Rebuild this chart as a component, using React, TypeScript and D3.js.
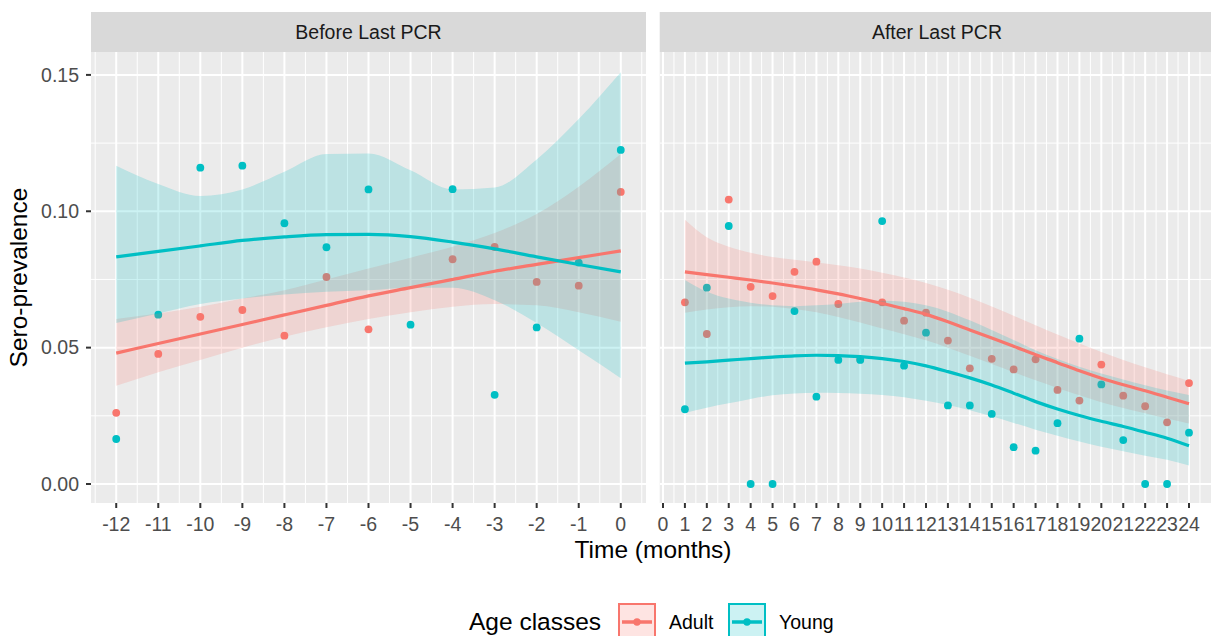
import React, { useEffect } from 'react';
import * as d3 from 'd3';

// months on the x axis of each facet
const beforeMonths = [-12, -11, -10, -9, -8, -7, -6, -5, -4, -3, -2, -1, 0];
const afterMonths = [1, 2, 3, 4, 5, 6, 7, 8, 9, 10, 11, 12, 13, 14, 15, 16, 17, 18, 19, 20, 21, 22, 23, 24];
const beforeTicks = [-12, -11, -10, -9, -8, -7, -6, -5, -4, -3, -2, -1, 0];
const afterTicks = [0, 1, 2, 3, 4, 5, 6, 7, 8, 9, 10, 11, 12, 13, 14, 15, 16, 17, 18, 19, 20, 21, 22, 23, 24];
const yTicks = [0, 0.05, 0.1, 0.15];
const yMinor = [0.025, 0.075, 0.125];
const facetLabels = ['Before Last PCR', 'After Last PCR'];
const groups = ['Adult', 'Young'];
const groupColors = ['#F8766D', '#00BFC4'];

// observed sero-prevalence
const beforeAdult = [0.0261, 0.0477, 0.0613, 0.0638, 0.0544, 0.0759, 0.0567, null, 0.0824, 0.0869, 0.0741, 0.0727, 0.1071];
const beforeYoung = [0.0165, 0.0621, 0.116, 0.1167, 0.0956, 0.0868, 0.108, 0.0584, 0.1081, 0.0327, 0.0574, 0.0812, 0.1225];
const afterAdult = [0.0666, 0.055, 0.1043, 0.0723, 0.0689, 0.0778, 0.0815, 0.066, 0.0457, 0.0666, 0.0599, 0.0628, 0.0526, 0.0424, 0.0459, 0.042, 0.0457, 0.0345, 0.0306, 0.0438, 0.0324, 0.0285, 0.0226, 0.037];
const afterYoung = [0.0274, 0.072, 0.0946, 0, 0, 0.0634, 0.032, 0.0455, 0.0455, 0.0964, 0.0434, 0.0555, 0.0288, 0.0288, 0.0257, 0.0135, 0.0122, 0.0223, 0.0533, 0.0365, 0.0161, 0, 0, 0.0188];

// smoothed fits and their confidence bands
const beforeAdultFit = [0.048, 0.0515, 0.055, 0.0585, 0.062, 0.0655, 0.069, 0.072, 0.075, 0.078, 0.0805, 0.083, 0.0855];
const beforeAdultLo = [0.036, 0.041, 0.0455, 0.05, 0.054, 0.0575, 0.0605, 0.063, 0.065, 0.066, 0.0655, 0.063, 0.0595];
const beforeAdultHi = [0.0605, 0.0625, 0.065, 0.068, 0.071, 0.075, 0.079, 0.083, 0.087, 0.092, 0.099, 0.109, 0.121];
const beforeYoungFit = [0.0833, 0.0853, 0.0873, 0.0893, 0.0906, 0.0914, 0.0915, 0.0907, 0.0887, 0.0862, 0.0833, 0.0805, 0.0778];
const beforeYoungLo = [0.059, 0.0625, 0.066, 0.068, 0.0695, 0.0705, 0.071, 0.072, 0.072, 0.0674, 0.059, 0.049, 0.0388];
const beforeYoungHi = [0.1167, 0.11, 0.1056, 0.108, 0.1145, 0.121, 0.1212, 0.115, 0.108, 0.1087, 0.119, 0.1338, 0.151];
const afterAdultFit = [0.0778, 0.0768, 0.0758, 0.0748, 0.0737, 0.0725, 0.0712, 0.0697, 0.068, 0.0662, 0.0643, 0.0622, 0.0595, 0.0565, 0.0535, 0.0505, 0.0474, 0.0445, 0.0415, 0.0388, 0.0364, 0.0342, 0.0318, 0.0294];
const afterAdultLo = [0.0628, 0.064, 0.0648, 0.0652, 0.065, 0.0642, 0.063, 0.0612, 0.0592, 0.057, 0.0549, 0.0527, 0.05, 0.047, 0.044, 0.041, 0.038, 0.0352, 0.0325, 0.03, 0.0279, 0.0259, 0.024, 0.0222];
const afterAdultHi = [0.0969, 0.0905, 0.087, 0.0848, 0.0832, 0.0822, 0.0812, 0.0802, 0.079, 0.0775, 0.0757, 0.0737, 0.0712, 0.0683, 0.0651, 0.0617, 0.0582, 0.0548, 0.0515, 0.0484, 0.0455, 0.0428, 0.0402, 0.0378];
const afterYoungFit = [0.0443, 0.0448, 0.0454, 0.046, 0.0465, 0.047, 0.0472, 0.0471, 0.0467, 0.046, 0.0449, 0.0433, 0.0412, 0.0389, 0.0363, 0.0333, 0.0302, 0.0275, 0.0251, 0.023, 0.0211, 0.019, 0.0168, 0.014];
const afterYoungLo = [0.026, 0.028, 0.0296, 0.0312, 0.0325, 0.0332, 0.0335, 0.0334, 0.0331, 0.0326, 0.0318, 0.0305, 0.029, 0.027, 0.0248, 0.0224, 0.0199, 0.0177, 0.0156, 0.0137, 0.012, 0.0104, 0.0089, 0.0068];
const afterYoungHi = [0.0748, 0.0705, 0.068, 0.0665, 0.0655, 0.0652, 0.0655, 0.066, 0.0668, 0.0672, 0.0668, 0.0655, 0.0632, 0.06, 0.0565, 0.0528, 0.049, 0.0458, 0.043, 0.0405, 0.0383, 0.0362, 0.0343, 0.0326];

const W = 1211;
const H = 636;
const FONT = '"Liberation Sans", Arial, sans-serif';
const panelTop = 52;
const panelBottom = 503;
const stripTop = 12;

const y = d3.scaleLinear().domain([-0.00697, 0.1584]).range([panelBottom, panelTop]);

const panels = [
  {
    label: facetLabels[0],
    x: d3.scaleLinear().domain([-12.6, 0.6]).range([91, 646]),
    months: beforeMonths,
    ticks: beforeTicks,
    series: [
      { pts: beforeAdult, fit: beforeAdultFit, lo: beforeAdultLo, hi: beforeAdultHi },
      { pts: beforeYoung, fit: beforeYoungFit, lo: beforeYoungLo, hi: beforeYoungHi },
    ],
  },
  {
    label: facetLabels[1],
    x: d3.scaleLinear().domain([-0.15, 25.15]).range([659.7, 1214.2]),
    months: afterMonths,
    ticks: afterTicks,
    series: [
      { pts: afterAdult, fit: afterAdultFit, lo: afterAdultLo, hi: afterAdultHi },
      { pts: afterYoung, fit: afterYoungFit, lo: afterYoungLo, hi: afterYoungHi },
    ],
  },
];

const Panel = ({ p, idx }: { p: any; idx: number }) => {
  const [x0, x1] = p.x.range();
  const [d0, d1] = p.x.domain();
  const minorX = d3.range(Math.ceil(d0 - 0.5), Math.floor(d1 - 0.5) + 1).map((k: number) => k + 0.5);
  const line = d3.line<number>()
    .x((_d, i) => p.x(p.months[i]))
    .y((d) => y(d))
    .curve(d3.curveMonotoneX);
  const clipId = `clip-${idx}`;

  return (
    <g>
      <defs>
        <clipPath id={clipId}>
          <rect x={x0} y={panelTop} width={x1 - x0} height={panelBottom - panelTop} />
        </clipPath>
      </defs>
      {/* strip */}
      <rect x={x0} y={stripTop} width={x1 - x0} height={panelTop - stripTop} fill="#D9D9D9" />
      <text x={(x0 + x1) / 2} y={39} textAnchor="middle" fontSize={19.5} fill="#1A1A1A">{p.label}</text>
      {/* panel background + grid */}
      <rect x={x0} y={panelTop} width={x1 - x0} height={panelBottom - panelTop} fill="#EBEBEB" />
      <g clipPath={`url(#${clipId})`}>
        {yMinor.map((v) => (
          <line key={`ym${v}`} x1={x0} x2={x1} y1={y(v)} y2={y(v)} stroke="#fff" strokeWidth={1} />
        ))}
        {minorX.map((v: number) => (
          <line key={`xm${v}`} x1={p.x(v)} x2={p.x(v)} y1={panelTop} y2={panelBottom} stroke="#fff" strokeWidth={1} />
        ))}
        {yTicks.map((v) => (
          <line key={`y${v}`} x1={x0} x2={x1} y1={y(v)} y2={y(v)} stroke="#fff" strokeWidth={2} />
        ))}
        {p.ticks.map((v: number) => (
          <line key={`x${v}`} x1={p.x(v)} x2={p.x(v)} y1={panelTop} y2={panelBottom} stroke="#fff" strokeWidth={2} />
        ))}
        {/* points */}
        {p.series.map((s: any, gi: number) =>
          s.pts.map((v: number | null, i: number) =>
            v === null ? null : (
              <circle key={`p${gi}-${i}`} cx={p.x(p.months[i])} cy={y(v)} r={3.9} fill={groupColors[gi]} />
            )
          )
        )}
        {/* confidence ribbons */}
        {p.series.map((s: any, gi: number) => {
          const area = d3.area<number>()
            .x((_d, i) => p.x(p.months[i]))
            .y0((_d, i) => y(s.lo[i]))
            .y1((_d, i) => y(s.hi[i]))
            .curve(d3.curveMonotoneX);
          return <path key={`r${gi}`} d={area(s.fit) || ''} fill={groupColors[gi]} fillOpacity={0.2} />;
        })}
        {/* smooth lines on top */}
        {p.series.map((s: any, gi: number) => (
          <path key={`l${gi}`} d={line(s.fit) || ''} fill="none" stroke={groupColors[gi]} strokeWidth={3.2} />
        ))}
      </g>
      {/* x axis ticks */}
      {p.ticks.map((v: number) => (
        <g key={`xt${v}`}>
          <line x1={p.x(v)} x2={p.x(v)} y1={panelBottom} y2={panelBottom + 5} stroke="#333" strokeWidth={2} />
          <text x={p.x(v)} y={531} textAnchor="middle" fontSize={19.5} fill="#4D4D4D">{v}</text>
        </g>
      ))}
    </g>
  );
};

const App = () => {
  useEffect(() => {
    document.body.style.margin = '0';
  }, []);

  const legendKeys = [
    { x: 618, labelX: 669 },
    { x: 728, labelX: 779 },
  ];

  return (
    <svg width={W} height={H} style={{ display: 'block' }} fontFamily={FONT}>
      <rect width={W} height={H} fill="#fff" />
      {panels.map((p, i) => (
        <Panel key={i} p={p} idx={i} />
      ))}
      {/* y axis */}
      {yTicks.map((v) => (
        <g key={`yt${v}`}>
          <line x1={86} x2={91} y1={y(v)} y2={y(v)} stroke="#333" strokeWidth={2} />
          <text x={79} y={y(v)} dy="0.35em" textAnchor="end" fontSize={19.5} fill="#4D4D4D">{v.toFixed(2)}</text>
        </g>
      ))}
      <text transform={`translate(27,${(panelTop + panelBottom) / 2}) rotate(-90)`} textAnchor="middle" fontSize={24.5} fill="#000">
        Sero-prevalence
      </text>
      <text x={653} y={558} textAnchor="middle" fontSize={24.5} fill="#000">Time (months)</text>
      {/* legend */}
      <text x={469} y={630} fontSize={24.5} fill="#000">Age classes</text>
      {groups.map((g, gi) => {
        const k = legendKeys[gi];
        return (
          <g key={g}>
            <rect x={k.x + 1} y={604} width={36} height={36} fill={groupColors[gi]} fillOpacity={0.2} stroke={groupColors[gi]} strokeWidth={2} />
            <line x1={k.x + 4} x2={k.x + 34} y1={622} y2={622} stroke={groupColors[gi]} strokeWidth={3.5} />
            <circle cx={k.x + 19} cy={622} r={3.7} fill={groupColors[gi]} />
            <text x={k.labelX} y={629} fontSize={19.5} fill="#000">{g}</text>
          </g>
        );
      })}
    </svg>
  );
};

export default App;
